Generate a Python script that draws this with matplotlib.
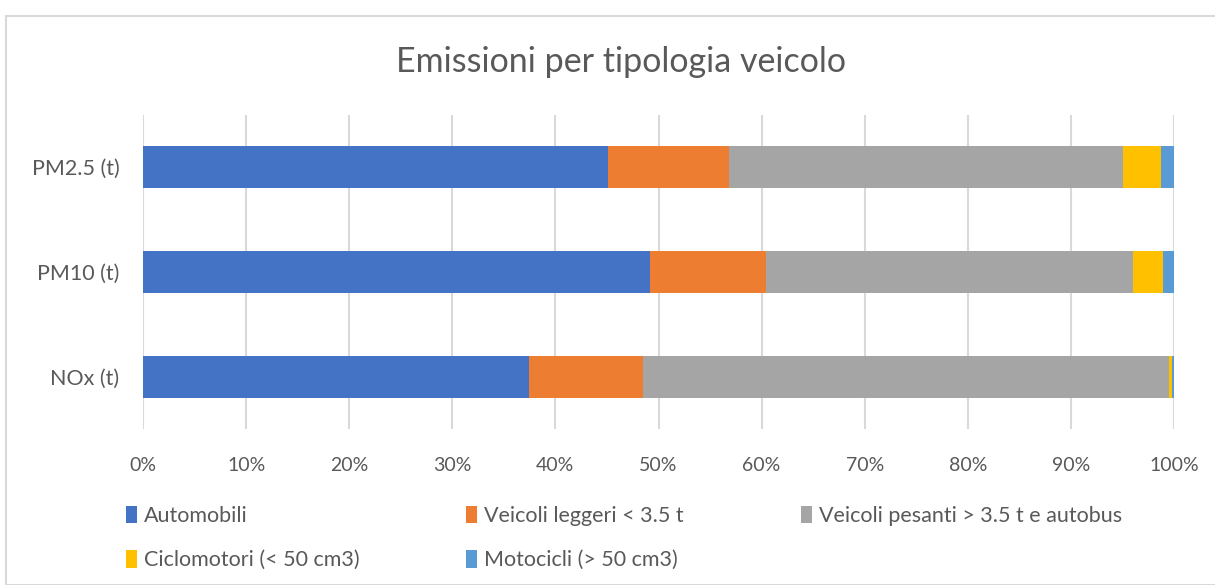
import matplotlib
matplotlib.use("Agg")
import matplotlib.pyplot as plt
from matplotlib.patches import Rectangle
import numpy as np

categories = ["NOx (t)", "PM10 (t)", "PM2.5 (t)"]
series_names = ["Automobili", "Veicoli leggeri < 3.5 t", "Veicoli pesanti > 3.5 t e autobus",
                "Ciclomotori (< 50 cm3)", "Motocicli (> 50 cm3)"]
automobili = [37.4, 49.2, 45.1]
leggeri = [11.1, 11.2, 11.7]
pesanti = [51.0, 35.6, 38.3]
ciclomotori = [0.3, 2.9, 3.6]
motocicli = [0.2, 1.1, 1.3]
colors = ["#4472C4", "#ED7D31", "#A5A5A5", "#FFC000", "#5B9BD5"]
xticks = [0, 10, 20, 30, 40, 50, 60, 70, 80, 90, 100]

plt.rcParams['font.family'] = ['Lato', 'DejaVu Sans']
W, H = 1215, 585
fig = plt.figure(figsize=(W/100, H/100), dpi=100)
fig.patch.set_facecolor("white")

# chart frame
fig.add_artist(Rectangle((6/W, 0), 1.2, (H-16)/H, transform=fig.transFigure,
                         fill=False, edgecolor="#D9D9D9", linewidth=1.5))

ax = fig.add_axes([143/W, 1-429/H, (1174-143)/W, (429-115)/H])
y = np.arange(len(categories))
data = [automobili, leggeri, pesanti, ciclomotori, motocicli]
left = np.zeros(len(categories))
handles = []
for name, vals, c in zip(series_names, data, colors):
    b = ax.barh(y, vals, left=left, height=0.4, color=c, label=name, zorder=3)
    handles.append(b)
    left += np.array(vals)

ax.set_xlim(0, 100)
ax.set_ylim(-0.5, 2.5)
ax.set_xticks(xticks)
ax.set_xticklabels([f"{v}%" for v in xticks])
ax.set_yticks(y)
ax.set_yticklabels(categories)
ax.grid(axis="x", color="#D9D9D9", linewidth=1.5, zorder=0)
for s in ax.spines.values():
    s.set_visible(False)
ax.tick_params(axis="both", length=0, colors="#595959")
ax.tick_params(axis="x", pad=20, labelsize=14)
ax.tick_params(axis="y", pad=17, labelsize=15.5)

fig.text(621/W, 1-62/H, "Emissioni per tipologia veicolo", ha="center", va="center",
         fontsize=24.5, color="#595959")

cols = [[0, 3], [1, 4], [2]]
xs = [117, 457, 792]
for xi, idx in zip(xs, cols):
    leg = fig.legend([handles[i] for i in idx], [series_names[i] for i in idx],
                     loc="upper left", bbox_to_anchor=(xi/W, 1-497/H), frameon=False,
                     fontsize=15.5, handlelength=0.55, handleheight=0.9, handletextpad=0.3,
                     labelspacing=1.1, borderaxespad=0)
    for t in leg.get_texts():
        t.set_color("#595959")

fig.savefig("out.png", dpi=100, facecolor="white")
